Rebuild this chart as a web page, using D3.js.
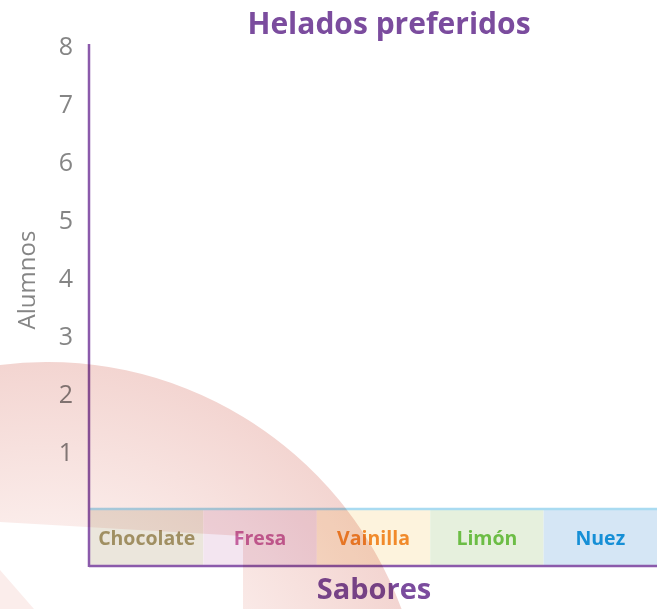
<!DOCTYPE html>
<html>
<head>
<meta charset="utf-8">
<script src="https://cdn.jsdelivr.net/npm/d3@7"></script>
<style>
  html, body { margin: 0; padding: 0; background: #fff; }
  svg { display: block; }
</style>
</head>
<body>
<svg id="chart" width="658" height="609"></svg>
<script>
// Survey worksheet: favourite ice-cream flavours (bars left for students to fill in)
const categories = ["Chocolate", "Fresa", "Vainilla", "Limón", "Nuez"];
const yTicks = [1, 2, 3, 4, 5, 6, 7, 8];
const yMax = 8;
const title = "Helados preferidos";
const xTitle = "Sabores";
const yTitle = "Alumnos";

// Cell fill and label colours per flavour
const cellFill = ["#ebe6dc", "#f3e5f0", "#fdf3dd", "#e6f0dd", "#d5e6f5"];
const labelColor = ["#a08f62", "#c4619f", "#f18a2b", "#6cbd45", "#168fd6"];

const svg = d3.select("#chart");
const W = 658, H = 609;
const purple = "#7b4c9e";
const axisPurple = "#8b5aab";
const gray = "#858585";

const plot = { left: 89, right: 657, top: 44, stripTop: 509, bottom: 566 };

const x = d3.scaleBand().domain(categories).range([plot.left + 1, plot.right]).padding(0);
const y = d3.scaleLinear().domain([0, yMax]).range([510, 45]);

// Category strip
const strip = svg.append("g");
strip.selectAll("rect.cell")
  .data(categories)
  .join("rect")
  .attr("class", "cell")
  .attr("x", d => x(d))
  .attr("y", plot.stripTop + 1)
  .attr("width", x.bandwidth())
  .attr("height", plot.bottom - plot.stripTop - 1)
  .attr("fill", (d, i) => cellFill[i]);

strip.append("line")
  .attr("x1", plot.left + 1).attr("x2", plot.right)
  .attr("y1", plot.stripTop).attr("y2", plot.stripTop)
  .attr("stroke", "#a9dbf1").attr("stroke-width", 2.5);

strip.selectAll("text.cat")
  .data(categories)
  .join("text")
  .attr("class", "cat")
  .attr("x", d => x(d) + x.bandwidth() / 2)
  .attr("y", 545)
  .attr("text-anchor", "middle")
  .attr("font-family", "'Open Sans', sans-serif")
  .attr("font-weight", 700)
  .attr("font-size", 19.5)
  .attr("fill", (d, i) => labelColor[i])
  .text(d => d);

// Y axis: labels only, no tick marks
const yAxis = d3.axisLeft(y).tickValues(yTicks).tickSize(0).tickPadding(16);
const gy = svg.append("g")
  .attr("transform", `translate(${plot.left},0)`)
  .call(yAxis);
gy.select(".domain").remove();
gy.selectAll("text")
  .attr("font-family", "'Open Sans', sans-serif")
  .attr("font-weight", 400)
  .attr("font-size", 25)
  .attr("fill", gray)
  .attr("dy", "0.36em");

// Axis lines
svg.append("line")
  .attr("x1", plot.left).attr("x2", plot.left)
  .attr("y1", plot.top).attr("y2", plot.bottom + 1)
  .attr("stroke", axisPurple).attr("stroke-width", 2.5);
svg.append("line")
  .attr("x1", plot.left).attr("x2", plot.right)
  .attr("y1", plot.bottom).attr("y2", plot.bottom)
  .attr("stroke", axisPurple).attr("stroke-width", 2.5);

// Titles
svg.append("text")
  .attr("x", 389).attr("y", 34)
  .attr("text-anchor", "middle")
  .attr("font-family", "'Open Sans', sans-serif")
  .attr("font-weight", 700)
  .attr("font-size", 30)
  .attr("fill", purple)
  .text(title);

svg.append("text")
  .attr("x", 374).attr("y", 599)
  .attr("text-anchor", "middle")
  .attr("font-family", "'Open Sans', sans-serif")
  .attr("font-weight", 700)
  .attr("font-size", 29)
  .attr("fill", purple)
  .text(xTitle);

svg.append("text")
  .attr("transform", "translate(35,280) rotate(-90)")
  .attr("text-anchor", "middle")
  .attr("font-family", "'Open Sans', sans-serif")
  .attr("font-weight", 400)
  .attr("font-size", 24)
  .attr("fill", gray)
  .text(yTitle);

// Decorative pink arc band behind the page content
const cx = 47, cy = 740, R = 378;
const defs = svg.append("defs");
const grad = defs.append("radialGradient")
  .attr("id", "bandGrad")
  .attr("gradientUnits", "userSpaceOnUse")
  .attr("cx", cx).attr("cy", cy).attr("r", R);
grad.append("stop").attr("offset", 0.55).attr("stop-color", "#fbedeb");
grad.append("stop").attr("offset", 1).attr("stop-color", "#f3d5d1");

const yBottomArc = H;
const xAtBottom = cx + Math.sqrt(R * R - (cy - yBottomArc) ** 2);
const yAtLeft = cy - Math.sqrt(R * R - cx * cx);
const band = d3.path();
band.moveTo(0, yAtLeft);
band.arc(cx, cy, R, Math.atan2(yAtLeft - cy, 0 - cx), Math.atan2(yBottomArc - cy, xAtBottom - cx));
band.lineTo(243, H);
band.lineTo(243, 536);
band.lineTo(0, 522);
band.closePath();
band.moveTo(0, 570);
band.lineTo(34, H);
band.lineTo(0, H);
band.closePath();

svg.append("path")
  .attr("d", band.toString())
  .attr("fill", "url(#bandGrad)")
  .style("mix-blend-mode", "multiply");
</script>
</body>
</html>
